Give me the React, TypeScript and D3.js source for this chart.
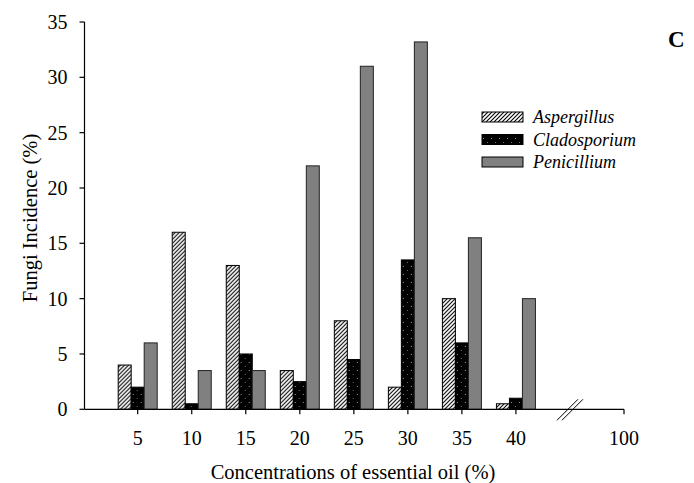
import React from "react";
import * as d3 from "d3";

const concentrations = ["5", "10", "15", "20", "25", "30", "35", "40"];
const axisCategories = ["5", "10", "15", "20", "25", "30", "35", "40", "break", "100"];
const seriesNames = ["Aspergillus", "Cladosporium", "Penicillium"];
const aspergillus = [4, 16, 13, 3.5, 8, 2, 10, 0.5];
const cladosporium = [2, 0.5, 5, 2.5, 4.5, 13.5, 6, 1];
const penicillium = [6, 3.5, 3.5, 22, 31, 33.2, 15.5, 10];
const yTicks = [0, 5, 10, 15, 20, 25, 30, 35];

const seriesValues = [aspergillus, cladosporium, penicillium];
const fills = ["url(#hatch)", "url(#dots)", "#808080"];

const W = 694;
const H = 483;
const font = "'Liberation Serif', 'Times New Roman', serif";

export default function App() {
  const x0 = 84.5;
  const xEnd = 624;
  const y = d3.scaleLinear().domain([0, 35]).range([409.3, 22]);
  const x = d3.scalePoint<string>().domain(axisCategories).range([137.7, xEnd]);
  const groupWidth = 39;
  const xs = d3.scaleBand<string>().domain(seriesNames).range([-groupWidth / 2, groupWidth / 2]);
  const baseY = y(0);
  const breakX = x("break")!;

  return (
    <svg width={W} height={H} style={{ position: "absolute", left: 0, top: 0 }}>
      <defs>
        <pattern id="hatch" width="4" height="4" patternUnits="userSpaceOnUse">
          <rect width="4" height="4" fill="#fff" />
          <path d="M-1,1 l2,-2 M0,4 l4,-4 M3,5 l2,-2" stroke="#000" strokeWidth="1.1" />
        </pattern>
        <pattern id="dots" width="8" height="8" patternUnits="userSpaceOnUse">
          <rect width="8" height="8" fill="#000" />
          <rect x="3" y="2" width="1" height="1" fill="#9a9a9a" />
          <rect x="7" y="6" width="1" height="1" fill="#6a6a6a" />
        </pattern>
      </defs>

      {/* bars */}
      {concentrations.map((c, i) => (
        <g key={c} transform={`translate(${x(c)},0)`}>
          {seriesNames.map((s, k) => {
            const v = seriesValues[k][i];
            return (
              <rect
                key={s}
                x={xs(s)!}
                y={y(v)}
                width={xs.bandwidth()}
                height={baseY - y(v)}
                fill={fills[k]}
                stroke={k === 2 ? "#222" : "#000"}
                strokeWidth={1}
              />
            );
          })}
        </g>
      ))}

      {/* y axis */}
      <line x1={x0} x2={x0} y1={y(35)} y2={baseY} stroke="#000" strokeWidth={1.2} />
      {yTicks.map((t) => (
        <g key={t}>
          <line x1={x0 - 5} x2={x0} y1={y(t)} y2={y(t)} stroke="#000" strokeWidth={1.2} />
          <text
            x={x0 - 17}
            y={y(t)}
            dy="0.35em"
            textAnchor="end"
            fontFamily={font}
            fontSize={20}
            fill="#000"
          >
            {t}
          </text>
        </g>
      ))}

      {/* x axis */}
      <line x1={x0} x2={xEnd} y1={baseY} y2={baseY} stroke="#000" strokeWidth={1.2} />
      {axisCategories
        .filter((c) => c !== "break")
        .map((c) => (
          <g key={c}>
            <line x1={x(c)} x2={x(c)} y1={baseY} y2={baseY + 5} stroke="#000" strokeWidth={1.2} />
            <text
              x={x(c)}
              y={baseY + 36}
              textAnchor="middle"
              fontFamily={font}
              fontSize={20}
              fill="#000"
            >
              {c}
            </text>
          </g>
        ))}
      {/* axis break marks */}
      {[-2.5, 2.5].map((o) => (
        <line
          key={o}
          x1={breakX + o - 10.5}
          y1={baseY + 11}
          x2={breakX + o + 10.5}
          y2={baseY - 10}
          stroke="#000"
          strokeWidth={1}
        />
      ))}

      {/* axis titles */}
      <text
        x={353}
        y={479}
        textAnchor="middle"
        fontFamily={font}
        fontSize={20.5}
        fill="#000"
      >
        Concentrations of essential oil (%)
      </text>
      <text
        transform={`translate(30,218) rotate(-90)`}
        textAnchor="middle"
        dy="0.35em"
        fontFamily={font}
        fontSize={20.5}
        fill="#000"
      >
        Fungi Incidence (%)
      </text>

      {/* legend */}
      {seriesNames.map((s, k) => {
        const ly = 112 + k * 22.5;
        return (
          <g key={s}>
            <rect x={482} y={ly} width={41} height={10} fill={fills[k]} stroke="#000" strokeWidth={1} />
            <text
              x={533}
              y={ly + 5}
              dy="0.35em"
              fontFamily={font}
              fontStyle="italic"
              fontSize={18}
              fill="#000"
            >
              {s}
            </text>
          </g>
        );
      })}

      {/* panel letter */}
      <text x={668} y={47} fontFamily={font} fontWeight="bold" fontSize={23} fill="#000">
        C
      </text>
    </svg>
  );
}
